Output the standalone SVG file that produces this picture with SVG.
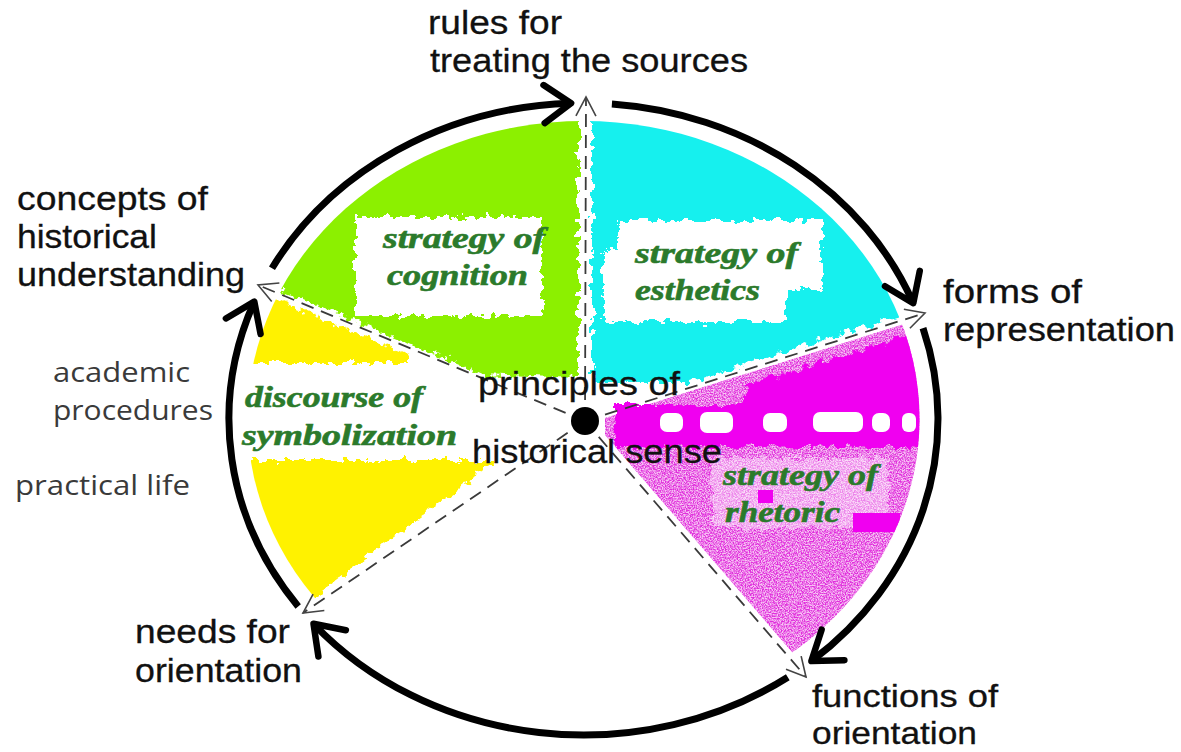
<svg xmlns="http://www.w3.org/2000/svg" width="1181" height="752" viewBox="0 0 1181 752">
<defs>
<style>
.lbl{font-family:"Liberation Sans",Arial,sans-serif;font-size:34px;fill:#111;stroke:#111;stroke-width:0.3}
.sm{font-size:32px}
.sub{font-family:"Open Sans","Liberation Sans",sans-serif;font-size:28px;fill:#3a3a3a}
.strat{font-family:"Liberation Serif","Times New Roman",serif;font-size:30px;font-weight:bold;font-style:italic;fill:#2b7a2b;stroke:#2b7a2b;stroke-width:0.6}
.ring{fill:none;stroke:#000;stroke-width:7;marker-end:url(#big)}
.ray{fill:none;stroke:#3a3a3a;stroke-width:1.8;stroke-dasharray:13 8;marker-end:url(#thin)}
.wbox{fill:#fff}
.dash{fill:#fff}
</style>
<marker id="big" markerUnits="userSpaceOnUse" markerWidth="80" markerHeight="80" refX="0" refY="0" orient="auto" overflow="visible">
<path d="M-27,-19 L0,0 L-27,19" fill="none" stroke="#000" stroke-width="6.5" stroke-linecap="round" stroke-linejoin="round"/>
</marker>
<marker id="thin" markerUnits="userSpaceOnUse" markerWidth="40" markerHeight="40" refX="0" refY="0" orient="auto" overflow="visible">
<path d="M-19,-10 L0,0 L-19,10" fill="none" stroke="#444" stroke-width="1.6"/>
</marker>
<clipPath id="inner">
<ellipse cx="583.5" cy="419" rx="336" ry="298"/>
</clipPath>
<filter id="rough" x="-10%" y="-10%" width="120%" height="120%">
<feTurbulence type="fractalNoise" baseFrequency="0.12" numOctaves="3" seed="4" result="t"/>
<feDisplacementMap in="SourceGraphic" in2="t" scale="14" xChannelSelector="R" yChannelSelector="G"/>
</filter>
<filter id="speckle" x="0" y="0" width="100%" height="100%">
<feTurbulence type="fractalNoise" baseFrequency="0.75" numOctaves="2" seed="7" result="n"/>
<feColorMatrix in="n" type="matrix" values="0 0 0 0 0  0 0 0 0 0  0 0 0 0 0  3 0 0 0 -1.0" result="a"/>
<feComposite in="SourceGraphic" in2="a" operator="in"/>
</filter>
</defs>
<rect width="1181" height="752" fill="#fff"/>

<g id="fills" clip-path="url(#inner)">
<g id="magenta-base">
<polygon points="605,418 1401,168 1401,1057 1141,1057 605,435" fill="#f7c4f4"/>
<polygon points="605,418 1401,168 1401,1057 1141,1057 605,435" fill="#e02fdc" filter="url(#speckle)"/>
</g>
<g filter="url(#rough)">
<polygon points="482,374 -69,145 -69,-100 578,-100 578,378" fill="#8cf000"/>
<rect x="355" y="217" width="187" height="99" class="wbox"/>
<polygon points="592,-100 1400,-100 1401,157 690,382 592,382" fill="#12f0ee"/>
<polygon points="618,220 822,220 822,290 785,290 785,322 603,322 603,250 618,250" class="wbox"/>
<polygon points="150,246 410,356 410,363 150,363" fill="#fff200"/>
<polygon points="150,460 497,460 322,590 300,612 150,700" fill="#fff200"/>
<polygon points="615,405 745,405 745,385 925,330 1000,330 1000,447 615,447" fill="#f000f0"/>
<rect x="712" y="458" width="176" height="70" fill="#fff" opacity="0.4"/>
</g>
<g id="band-gaps">
<rect x="660" y="413" width="23" height="19" rx="7" class="dash"/>
<rect x="700" y="412" width="33" height="21" rx="7" class="dash"/>
<rect x="763" y="413" width="24" height="19" rx="7" class="dash"/>
<rect x="813" y="412" width="50" height="20" rx="7" class="dash"/>
<rect x="872" y="413" width="18" height="19" rx="7" class="dash"/>
<rect x="902" y="413" width="14" height="19" rx="6" class="dash"/>
</g>
<rect x="758" y="490" width="15" height="13" fill="#f000f0"/>
<rect x="853" y="513" width="47" height="19" fill="#f000f0"/>
</g>

<g id="connectors">
<path class="ring" d="M272.0,268.2 A354.5,316 0 0 1 571.1,103.2"/>
<path class="ring" d="M611.9,104.0 A354.5,316 0 0 1 913.3,303.2"/>
<path class="ring" d="M923.0,328.2 A354.5,316 0 0 1 811.4,661.1"/>
<path class="ring" d="M787.8,677.2 A354.5,316 0 0 1 313.5,623.8"/>
<path class="ring" d="M298.2,606.5 A354.5,316 0 0 1 254.3,301.6"/>
<line class="ray" x1="585" y1="421" x2="586" y2="97"/>
<line class="ray" x1="585" y1="421" x2="258" y2="285"/>
<line class="ray" x1="585" y1="421" x2="925" y2="313"/>
<line class="ray" x1="585" y1="421" x2="806" y2="677"/>
<line class="ray" x1="585" y1="421" x2="303" y2="613"/>
</g>

<g id="center">
<circle cx="585" cy="421" r="14" fill="#000"/>
<text class="lbl" x="478" y="395" textLength="202" lengthAdjust="spacingAndGlyphs">principles of</text>
<text class="lbl" x="472" y="463" textLength="250" lengthAdjust="spacingAndGlyphs">historical sense</text>
</g>

<g id="rules">
<text class="lbl" x="428" y="34" textLength="134" lengthAdjust="spacingAndGlyphs">rules for</text>
<text class="lbl" x="430" y="72" textLength="318" lengthAdjust="spacingAndGlyphs">treating the sources</text>
</g>
<g id="concepts">
<text class="lbl" x="17" y="210" textLength="191" lengthAdjust="spacingAndGlyphs">concepts of</text>
<text class="lbl" x="17" y="248" textLength="140" lengthAdjust="spacingAndGlyphs">historical</text>
<text class="lbl" x="17" y="286" textLength="228" lengthAdjust="spacingAndGlyphs">understanding</text>
</g>
<g id="forms">
<text class="lbl" x="943" y="303" textLength="139" lengthAdjust="spacingAndGlyphs">forms of</text>
<text class="lbl" x="943" y="341" textLength="232" lengthAdjust="spacingAndGlyphs">representation</text>
</g>
<g id="functions">
<text class="lbl sm" x="812" y="707" textLength="186" lengthAdjust="spacingAndGlyphs">functions of</text>
<text class="lbl sm" x="812" y="744" textLength="165" lengthAdjust="spacingAndGlyphs">orientation</text>
</g>
<g id="needs">
<text class="lbl" x="135" y="643" textLength="155" lengthAdjust="spacingAndGlyphs">needs for</text>
<text class="lbl" x="135" y="682" textLength="167" lengthAdjust="spacingAndGlyphs">orientation</text>
</g>
<g id="academic">
<text class="sub" x="53" y="382" textLength="137" lengthAdjust="spacingAndGlyphs">academic</text>
<text class="sub" x="53" y="420" textLength="160" lengthAdjust="spacingAndGlyphs">procedures</text>
</g>
<g id="practical">
<text class="sub" x="15" y="495" textLength="175" lengthAdjust="spacingAndGlyphs">practical life</text>
</g>

<g id="cognition">
<text class="strat" x="383" y="248" textLength="162" lengthAdjust="spacingAndGlyphs">strategy of</text>
<text class="strat" x="387" y="285" textLength="141" lengthAdjust="spacingAndGlyphs">cognition</text>
</g>
<g id="esthetics">
<text class="strat" x="635" y="263" textLength="163" lengthAdjust="spacingAndGlyphs">strategy of</text>
<text class="strat" x="635" y="300" textLength="125" lengthAdjust="spacingAndGlyphs">esthetics</text>
</g>
<g id="symbolization">
<text class="strat" x="245" y="407" textLength="178" lengthAdjust="spacingAndGlyphs">discourse of</text>
<text class="strat" x="242" y="445" textLength="215" lengthAdjust="spacingAndGlyphs">symbolization</text>
</g>
<g id="rhetoric">
<text class="strat" x="723" y="485" textLength="155" lengthAdjust="spacingAndGlyphs">strategy of</text>
<text class="strat" x="725" y="522" textLength="115" lengthAdjust="spacingAndGlyphs">rhetoric</text>
</g>
</svg>
